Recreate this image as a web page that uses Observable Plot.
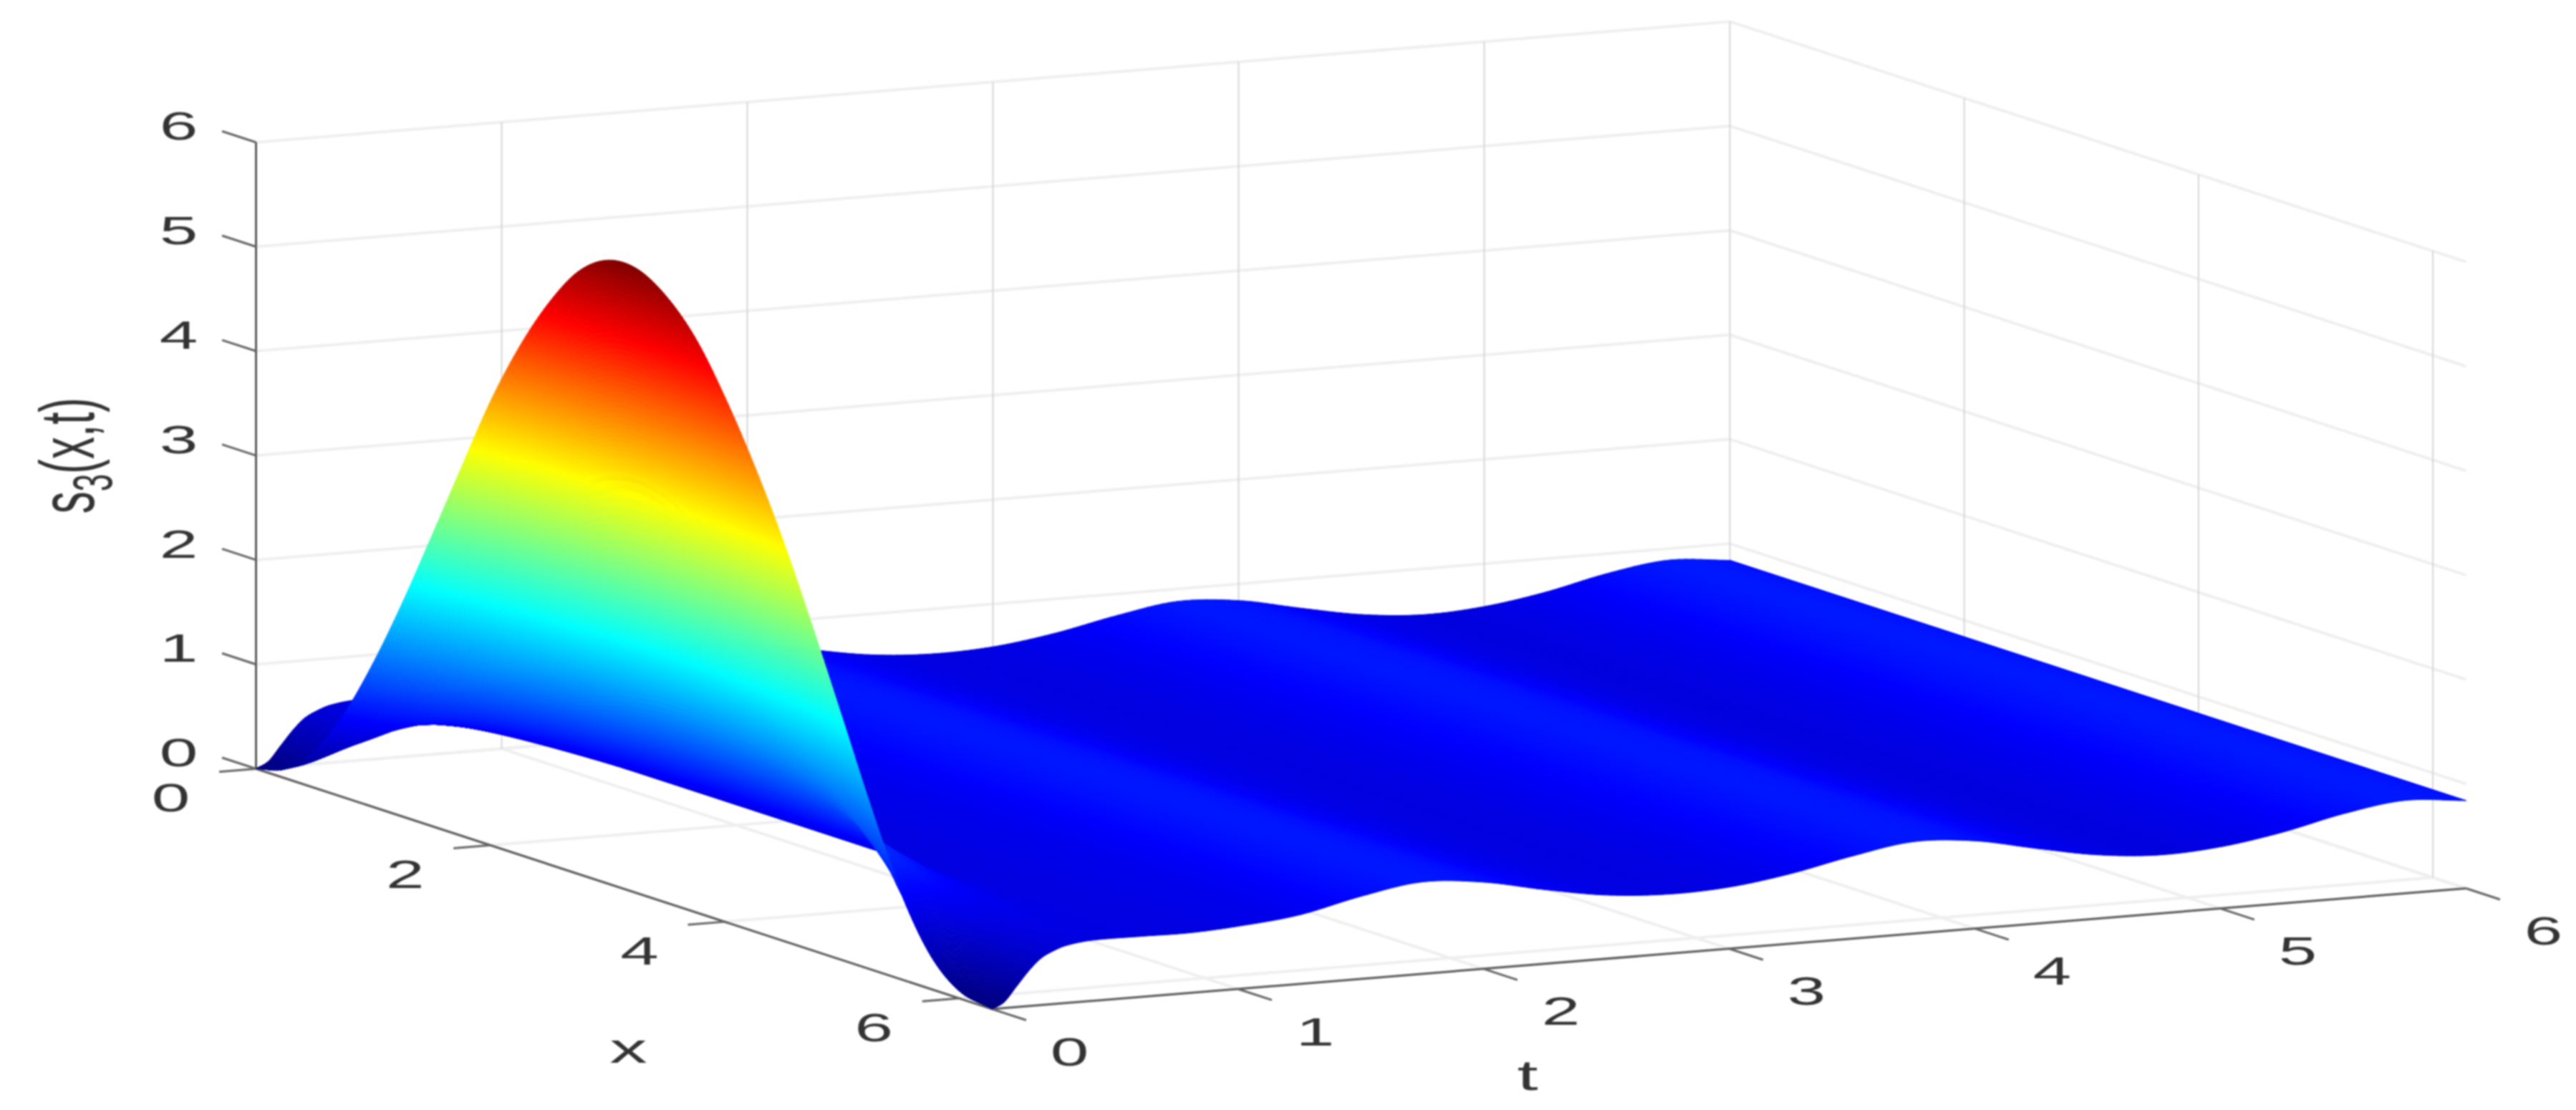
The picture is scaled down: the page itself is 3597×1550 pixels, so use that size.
<!DOCTYPE html>
<html>
<head>
<meta charset="utf-8">
<script src="https://cdn.jsdelivr.net/npm/d3@7"></script>
<script src="https://cdn.jsdelivr.net/npm/@observablehq/plot@0.6"></script>
<style>html,body{margin:0;padding:0;background:#fff}svg{display:block;filter:blur(1px)}</style>
</head>
<body>
<div id="chart"></div>
<script>
// ---- values ----
const xTicks = [0, 2, 4, 6];
const tTicks = [0, 1, 2, 3, 4, 5, 6];
const zTicks = [0, 1, 2, 3, 4, 5, 6];
const xEnd = 6.283;
const tEnd = 6;

// s3(x, 0): the tall front profile
const ridgeX = [0, .25, .5, .75, 1, 1.25, 1.5, 1.75, 2, 2.25, 2.5, 2.75, 3, 3.25, 3.5, 3.75, 4, 4.25, 4.5, 4.75, 5, 5.25, 5.5, 5.75, 6, 6.283];
const ridgeZ = [0, .09, .37, .8, 1.38, 2.05, 2.78, 3.52, 4.25, 4.87, 5.38, 5.77, 5.97, 5.98, 5.81, 5.5, 5.03, 4.47, 3.83, 3.1, 2.33, 1.55, .84, .33, .07, 0];

// s3(0, t) = s3(2pi, t): the rippled edges
const edgeT = [0, .05, .1, .15, .2, .25, .3, .4, .6, .8, 1, 1.25, 1.5, 1.75, 2, 2.25, 2.5, 2.75, 3, 3.25, 3.5, 3.75, 4, 4.25, 4.5, 4.75, 5, 5.25, 5.5, 5.75, 6];
const edgeZ = [0, .06, .2, .34, .45, .51, .55, .58, .58, .575, .6, .66, .79, .88, .83, .71, .61, .57, .59, .67, .79, .88, .84, .72, .61, .56, .59, .68, .81, .89, .84];

// how quickly the front profile dies away with t
const fallT = [0, .025, .05, .1, .15, .2, .3, .4, .5, .6];
const fallF = [1, .81, .65, .42, .3, .22, .13, .07, .025, 0];

// MATLAB jet
const jetStops = [0, .75, 2.25, 3.75, 5.25, 6];
const jetColors = ["#000080", "#0000ff", "#00ffff", "#ffff00", "#ff0000", "#800000"];

// ---- orthographic view: one t unit and one z unit are the screen units ----
const view = {xu: .477, xv: .3663, tv: .1927};
const project = (x, t, z) => ({u: view.xu * x + t, v: z - view.xv * x + view.tv * t});

function sampler(xs, ys) {
  const n = xs.length;
  const slope = i => {
    if (i === 0) return (ys[1] - ys[0]) / (xs[1] - xs[0]);
    if (i === n - 1) return (ys[n - 1] - ys[n - 2]) / (xs[n - 1] - xs[n - 2]);
    return (ys[i + 1] - ys[i - 1]) / (xs[i + 1] - xs[i - 1]);
  };
  return v => {
    if (v <= xs[0]) return ys[0];
    if (v >= xs[n - 1]) return ys[n - 1];
    const i = d3.bisectRight(xs, v) - 1;
    const h = xs[i + 1] - xs[i], s = (v - xs[i]) / h;
    const a = 2 * s ** 3 - 3 * s ** 2 + 1, b = s ** 3 - 2 * s ** 2 + s, c = -2 * s ** 3 + 3 * s ** 2, d = s ** 3 - s ** 2;
    return a * ys[i] + b * h * slope(i) + c * ys[i + 1] + d * h * slope(i + 1);
  };
}
const ridge = sampler(ridgeX, ridgeZ), edge = sampler(edgeT, edgeZ), fall = sampler(fallT, fallF);
const height = (x, t) => edge(t) + ridge(x) * Math.max(0, fall(t));

// ---- surface patches, painted far to near ----
const patches = [];
let pid = 0;
function addQuad(x0, x1, t0, t1) {
  const c = [[x0, t0], [x1, t0], [x1, t1], [x0, t1]];
  const zs = c.map(([x, t]) => height(x, t));
  const val = d3.mean(zs);
  [0, 1, 2, 3, 0].forEach(k => {
    const p = project(c[k][0], c[k][1], zs[k]);
    patches.push({u: p.u, v: p.v, id: pid, val});
  });
  pid++;
}
// beyond the front fold the height no longer changes with x: long strips
const farT = [...d3.range(.6, tEnd, .03), tEnd];
for (let j = farT.length - 2; j >= 0; --j) addQuad(0, xEnd, farT[j], farT[j + 1]);
// the fold itself needs a fine mesh
const nearX = d3.range(0, 241).map(i => xEnd * i / 240);
const nearT = [...d3.range(0, .05, .00125), ...d3.range(.05, .2, .003), ...d3.range(.2, .6, .012), .6];
for (let i = 0; i < nearX.length - 1; ++i) {
  for (let j = nearT.length - 2; j >= 0; --j) addQuad(nearX[i], nearX[i + 1], nearT[j], nearT[j + 1]);
}

// ---- grid, axes, ticks ----
const seg = (a, b) => {
  const p = project(...a), q = project(...b);
  return {u1: p.u, v1: p.v, u2: q.u, v2: q.v};
};
const zMax = 6;
const gridSoft = [
  ...zTicks.map(z => seg([0, 0, z], [0, tEnd, z])),
  ...zTicks.map(z => seg([0, tEnd, z], [xEnd, tEnd, z])),
  ...tTicks.map(t => seg([0, t, 0], [xEnd, t, 0])),
  ...xTicks.map(x => seg([x, 0, 0], [x, tEnd, 0])),
  seg([xEnd, 0, 0], [xEnd, tEnd, 0])
];
const gridWall = [
  ...tTicks.filter(t => t > 0).map(t => seg([0, t, 0], [0, t, zMax])),
  ...xTicks.filter(x => x > 0).map(x => seg([x, tEnd, 0], [x, tEnd, zMax]))
];
const axisLines = [seg([0, 0, 0], [xEnd, 0, 0]), seg([xEnd, 0, 0], [xEnd, tEnd, 0])];
const zAxisLine = [seg([0, 0, 0], [0, 0, zMax])];
const tickLen = .29;
const tickLinesData = [
  ...zTicks.map(z => seg([0, 0, z], [-tickLen, 0, z])),
  ...xTicks.map(x => seg([x, 0, 0], [x, -.15, 0])),
  ...tTicks.map(t => seg([xEnd, t, 0], [xEnd + tickLen, t, 0]))
];
const at = (x, t, z, text) => ({...project(x, t, z), text});
const zLabels = zTicks.map(z => at(0, 0, z, String(z)));
const xLabels = xTicks.map(x => at(x, 0, 0, String(x)));
const tLabels = tTicks.map(t => at(xEnd, t, 0, String(t)));

const linkOpts = {x1: "u1", y1: "v1", x2: "u2", y2: "v2"};
const labelOpts = {x: "u", y: "v", text: "text", fill: "#333", fontFamily: "Liberation Sans", fontSize: 55};

const chart = Plot.plot({
  width: 3597,
  height: 1550,
  margin: 0,
  style: {background: "#fff"},
  x: {domain: [-357 / 343, (3597 - 357) / 343], range: [0, 3597], axis: null},
  y: {domain: [(1073 - 1550) / 145.8, 1073 / 145.8], range: [1550, 0], axis: null},
  color: {type: "linear", domain: jetStops, range: jetColors, interpolate: "rgb", clamp: true},
  marks: [
    Plot.link(gridSoft, {...linkOpts, stroke: "#efefef", strokeWidth: 4}),
    Plot.link(gridWall, {...linkOpts, stroke: "#d6d6d6", strokeWidth: 2}),
    Plot.link(axisLines, {...linkOpts, stroke: "#5c5c5c", strokeWidth: 3}),
    Plot.link(zAxisLine, {...linkOpts, stroke: "#3a3a3a", strokeWidth: 2.5}),
    Plot.link(tickLinesData, {...linkOpts, stroke: "#666", strokeWidth: 3}),
    Plot.line(patches, {x: "u", y: "v", z: "id", fill: "val", stroke: "val", strokeWidth: 1}),
    Plot.text(zLabels, {...labelOpts, dx: -108, dy: -21}),
    Plot.text(xLabels, {...labelOpts, dx: -119, dy: 42}),
    Plot.text(tLabels, {...labelOpts, dx: 108, dy: 61}),
    Plot.text([at(Math.PI, 0, 0, "x")], {...labelOpts, fontSize: 60, dx: 6, dy: 224}),
    Plot.text([at(xEnd, 2.2, 0, "t")], {...labelOpts, fontSize: 60, dx: -7, dy: 156}),
    Plot.text([at(0, 0, 3, "s3(x,t)")], {...labelOpts, fontSize: 62, rotate: -90, dx: -261, dy: 0})
  ]
});
document.getElementById("chart").appendChild(chart);

// the picture is stretched sideways: widen every glyph about its anchor
d3.select(chart).selectAll("text").each(function () {
  const t = this.getAttribute("transform") || "";
  this.setAttribute("transform", t.replace(/^(translate\([^)]*\))/, "$1 scale(1.75,1)"));
  if (this.textContent === "s3(x,t)") {
    this.textContent = "";
    const ns = "http://www.w3.org/2000/svg";
    [["s", 0, null], ["3", 14, 44], ["(x,t)", -14, null]].forEach(([s, dy, fs]) => {
      const span = document.createElementNS(ns, "tspan");
      span.textContent = s;
      span.setAttribute("dy", dy);
      if (fs) span.setAttribute("font-size", fs);
      this.appendChild(span);
    });
  }
});
</script>
</body>
</html>
